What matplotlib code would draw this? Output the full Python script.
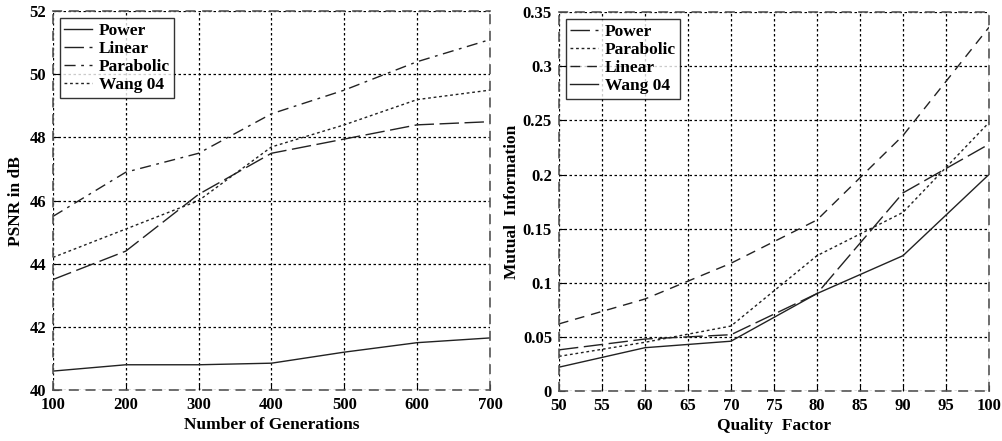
import matplotlib
matplotlib.use("Agg")
import matplotlib.pyplot as plt

# left panel: PSNR vs number of generations
generations = [100, 200, 300, 400, 500, 600, 700]
psnr_power = [40.6, 40.8, 40.8, 40.85, 41.2, 41.5, 41.65]
psnr_linear = [43.5, 44.4, 46.2, 47.5, 47.95, 48.4, 48.5]
psnr_parabolic = [45.5, 46.9, 47.5, 48.75, 49.5, 50.4, 51.1]
psnr_wang = [44.2, 45.1, 46.0, 47.7, 48.4, 49.2, 49.5]

# right panel: mutual information vs quality factor
quality = [50, 60, 70, 80, 90, 100]
mi_power = [0.038, 0.048, 0.052, 0.09, 0.183, 0.228]
mi_parabolic = [0.032, 0.045, 0.06, 0.125, 0.165, 0.248]
mi_linear = [0.062, 0.085, 0.118, 0.158, 0.236, 0.336]
mi_wang = [0.022, 0.04, 0.046, 0.09, 0.125, 0.2]

plt.rcParams['font.family'] = ['Liberation Serif', 'DejaVu Serif']
plt.rcParams['font.weight'] = 'bold'

fig = plt.figure(figsize=(10.03, 4.41), dpi=100)
ax1 = fig.add_axes([0.0528, 0.1156, 0.4357, 0.859])
ax2 = fig.add_axes([0.5573, 0.1134, 0.4287, 0.859])

c = '#222222'
lw = 1.0


def style(ax):
    ax.grid(True, color='black', linestyle=(0, (2, 2)), linewidth=0.9)
    for s in ax.spines.values():
        s.set_color('#555555')
        s.set_linestyle((0, (5, 5)))
        s.set_linewidth(1.2)
    ax.tick_params(direction='in', length=4, labelsize=12, pad=5)
    for t in ax.get_xticklabels() + ax.get_yticklabels():
        t.set_fontweight('bold')


def legend(ax):
    leg = ax.legend(loc='upper left', fontsize=12.5, frameon=True, fancybox=False,
                    edgecolor='black', handlelength=1.6, borderpad=0.25,
                    labelspacing=0.12, handletextpad=0.4, borderaxespad=0.4)
    leg.get_frame().set_linewidth(1.0)


ax1.plot(generations, psnr_power, color=c, lw=lw, ls='-', label='Power')
ax1.plot(generations, psnr_linear, color=c, lw=lw, ls=(0, (14, 4)), label='Linear')
ax1.plot(generations, psnr_parabolic, color=c, lw=lw, ls=(0, (8, 4, 2, 4)), label='Parabolic')
ax1.plot(generations, psnr_wang, color=c, lw=lw, ls=(0, (2, 2)), label='Wang 04')
ax1.set_xlim(100, 700)
ax1.set_ylim(40, 52)
ax1.set_xticks(generations)
ax1.set_yticks(range(40, 53, 2))
ax1.set_xlabel('Number of Generations', fontsize=12.5, fontweight='bold', labelpad=3)
ax1.set_ylabel('PSNR in dB', fontsize=12.5, fontweight='bold', labelpad=4)
style(ax1)
legend(ax1)

ax2.plot(quality, mi_power, color=c, lw=lw, ls=(0, (14, 4)), label='Power')
ax2.plot(quality, mi_parabolic, color=c, lw=lw, ls=(0, (2, 2)), label='Parabolic')
ax2.plot(quality, mi_linear, color=c, lw=lw, ls=(0, (7, 5)), label='Linear')
ax2.plot(quality, mi_wang, color=c, lw=lw, ls='-', label='Wang 04')
ax2.set_xlim(50, 100)
ax2.set_ylim(0, 0.35)
ax2.set_xticks(range(50, 101, 5))
ax2.set_yticks([0, 0.05, 0.1, 0.15, 0.2, 0.25, 0.3, 0.35])
ax2.set_yticklabels(['0', '0.05', '0.1', '0.15', '0.2', '0.25', '0.3', '0.35'])
ax2.set_xlabel('Quality  Factor', fontsize=12.5, fontweight='bold', labelpad=3)
ax2.set_ylabel('Mutual  Information', fontsize=12.5, fontweight='bold', labelpad=2)
style(ax2)
legend(ax2)

fig.savefig('out.png', dpi=100)
